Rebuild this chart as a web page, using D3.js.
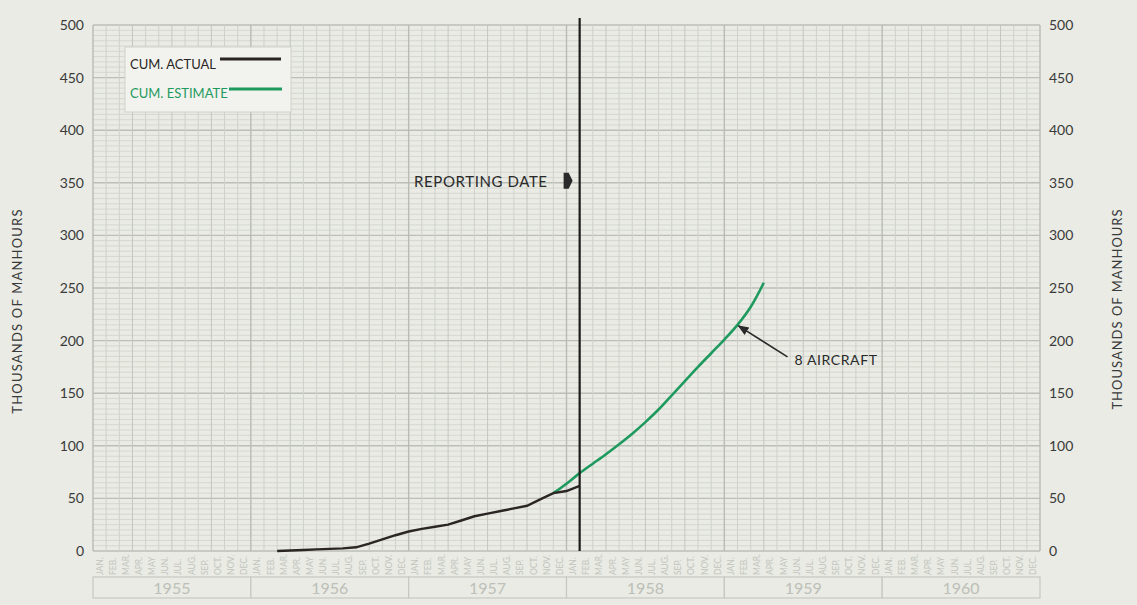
<!DOCTYPE html>
<html>
<head>
<meta charset="utf-8">
<script src="https://cdn.jsdelivr.net/npm/d3@7"></script>
<style>
  body { margin: 0; background: #e9ebe4; }
  svg text { font-family: Lato, "Open Sans", sans-serif; }
</style>
</head>
<body>
<div id="chart"></div>
<script>
// data (points sit on month boundaries, 'YYYY-MM' = start of that month)
const years = ['1955', '1956', '1957', '1958', '1959', '1960'];
const monthLabels = ['JAN.', 'FEB.', 'MAR.', 'APR.', 'MAY', 'JUN.', 'JUL.', 'AUG.', 'SEP.', 'OCT.', 'NOV.', 'DEC.'];
const yTicks = [0, 50, 100, 150, 200, 250, 300, 350, 400, 450, 500];

const actualDates = ['1956-03', '1956-04', '1956-05', '1956-06', '1956-07', '1956-08', '1956-09',
  '1956-10', '1956-11', '1956-12', '1957-01', '1957-02', '1957-03', '1957-04', '1957-05', '1957-06',
  '1957-07', '1957-08', '1957-09', '1957-10', '1957-11', '1957-12', '1958-01', '1958-02'];
const actualValues = [0, 0.5, 1, 1.5, 2, 2.5, 3.5, 7, 11, 15, 18.5, 21, 23, 25, 29, 33,
  35.5, 38, 40.5, 43, 49, 55, 57, 62];

const estimateDates = ['1957-12', '1958-01', '1958-02', '1958-03', '1958-04', '1958-05', '1958-06',
  '1958-07', '1958-08', '1958-09', '1958-10', '1958-11', '1958-12', '1959-01', '1959-02', '1959-03', '1959-04'];
const estimateValues = [55, 64, 74, 83, 92, 101.5, 111.5, 122.5, 134.5, 148, 161.5, 175, 188, 201, 215, 232, 255];

const reportingDate = '1958-02';
const annotation = { date: '1959-02', value: 215, text: '8 AIRCRAFT' };

// layout
const W = 1137, H = 605;
const margin = { left: 93, right: 1040, top: 25, bottom: 551 };

const svg = d3.select('#chart')
  .append('svg')
  .attr('width', W)
  .attr('height', H);

const monthIndex = s => (+s.slice(0, 4) - 1955) * 12 + (+s.slice(5, 7) - 1);

const x = d3.scaleLinear().domain([0, 72]).range([margin.left, margin.right]);
const y = d3.scaleLinear().domain([0, 500]).range([margin.bottom, margin.top]);

// grid
const grid = svg.append('g');
grid.selectAll('line.h')
  .data(d3.range(0, 501, 5))
  .enter()
  .append('line')
  .attr('x1', margin.left).attr('x2', margin.right)
  .attr('y1', d => y(d)).attr('y2', d => y(d))
  .attr('stroke', d => d % 50 === 0 ? '#bcbeb7' : '#d1d3cc')
  .attr('stroke-width', d => d % 50 === 0 ? 1.4 : 0.8);
grid.selectAll('line.v')
  .data(d3.range(0, 73))
  .enter()
  .append('line')
  .attr('y1', y(500)).attr('y2', y(0))
  .attr('x1', d => x(d)).attr('x2', d => x(d))
  .attr('stroke', d => d % 12 === 0 ? '#b9bbb4' : (d % 3 === 0 ? '#c4c6bf' : '#cfd1ca'))
  .attr('stroke-width', d => d % 12 === 0 ? 1.4 : 1);

// month labels
const months = d3.range(72);
svg.append('g').selectAll('text')
  .data(months)
  .enter()
  .append('text')
  .attr('transform', d => `translate(${x(d + 0.5) + 3}, 575)rotate(-90)`)
  .attr('font-size', 8.5)
  .attr('fill', '#c3c5be')
  .text(d => monthLabels[d % 12]);

// year boxes
const yearG = svg.append('g');
yearG.selectAll('rect')
  .data(years)
  .enter()
  .append('rect')
  .attr('x', (d, i) => x(i * 12))
  .attr('y', 577)
  .attr('width', x(12) - x(0))
  .attr('height', 21)
  .attr('fill', '#e9ebe4')
  .attr('stroke', '#c6c8c1')
  .attr('stroke-width', 1.2);
yearG.selectAll('text')
  .data(years)
  .enter()
  .append('text')
  .attr('x', (d, i) => x(i * 12 + 6))
  .attr('y', 594)
  .attr('text-anchor', 'middle')
  .attr('font-size', 16)
  .attr('fill', '#bdbfb8')
  .text(d => d);

// y axes
const yLeft = svg.append('g')
  .attr('transform', `translate(${margin.left - 6}, 0)`)
  .call(d3.axisLeft(y).tickValues(yTicks).tickSize(0));
const yRight = svg.append('g')
  .attr('transform', `translate(${margin.right + 6}, 0)`)
  .call(d3.axisRight(y).tickValues(yTicks).tickSize(0));
[yLeft, yRight].forEach(a => {
  a.select('.domain').remove();
  a.selectAll('text')
    .attr('font-size', 14)
    .attr('fill', '#3a3a3a')
    .style('font-family', 'Lato, sans-serif');
});

svg.append('text')
  .attr('transform', `translate(22, ${(margin.top + margin.bottom) / 2 + 23})rotate(-90)`)
  .attr('text-anchor', 'middle')
  .attr('font-size', 13)
  .attr('letter-spacing', 1.2)
  .attr('fill', '#3a3a3a')
  .text('THOUSANDS OF MANHOURS');
svg.append('text')
  .attr('transform', `translate(1122, ${(margin.top + margin.bottom) / 2 + 21})rotate(-90)`)
  .attr('text-anchor', 'middle')
  .attr('font-size', 13)
  .attr('letter-spacing', 1)
  .attr('fill', '#3a3a3a')
  .text('THOUSANDS OF MANHOURS');

// lines
const estimate = estimateDates.map((d, i) => [monthIndex(d), estimateValues[i]]);
const actual = actualDates.map((d, i) => [monthIndex(d), actualValues[i]]);

svg.append('path')
  .datum(estimate)
  .attr('fill', 'none')
  .attr('stroke', '#1f9a5e')
  .attr('stroke-width', 2.6)
  .attr('d', d3.line().x(d => x(d[0])).y(d => y(d[1])).curve(d3.curveCatmullRom));

svg.append('path')
  .datum(actual)
  .attr('fill', 'none')
  .attr('stroke', '#2b2624')
  .attr('stroke-width', 2.4)
  .attr('d', d3.line().x(d => x(d[0])).y(d => y(d[1])));

// reporting date
const rx = x(monthIndex(reportingDate));
svg.append('line')
  .attr('x1', rx).attr('x2', rx)
  .attr('y1', 18).attr('y2', y(0))
  .attr('stroke', '#1e1c1b')
  .attr('stroke-width', 2.2);
svg.append('text')
  .attr('x', rx - 32)
  .attr('y', y(346))
  .attr('text-anchor', 'end')
  .attr('font-size', 15)
  .attr('letter-spacing', 0.6)
  .attr('fill', '#2a2a2a')
  .text('REPORTING DATE');
svg.append('path')
  .attr('transform', `translate(${rx - 16}, ${y(352)})`)
  .attr('d', 'M0,-8 L5,-8 L9,0 L5,8 L0,8 Z')
  .attr('fill', '#2a2a2a');

// 8 aircraft annotation
const ax = x(monthIndex(annotation.date));
const ay = y(annotation.value);
svg.append('defs').append('marker')
  .attr('id', 'head')
  .attr('viewBox', '0 0 10 10')
  .attr('refX', 9).attr('refY', 5)
  .attr('markerWidth', 7).attr('markerHeight', 7)
  .attr('orient', 'auto')
  .append('path')
  .attr('d', 'M0,1 L10,5 L0,9 Z')
  .attr('fill', '#2a2a2a');
svg.append('line')
  .attr('x1', ax + 50).attr('x2', ax + 1)
  .attr('y1', ay + 32).attr('y2', ay + 1)
  .attr('stroke', '#2a2a2a')
  .attr('stroke-width', 1.6)
  .attr('marker-end', 'url(#head)');
svg.append('text')
  .attr('x', ax + 57)
  .attr('y', ay + 40)
  .attr('font-size', 14)
  .attr('letter-spacing', 0.6)
  .attr('fill', '#2a2a2a')
  .text(annotation.text);

// legend
const lg = svg.append('g').attr('transform', 'translate(125, 47)');
lg.append('rect')
  .attr('width', 166).attr('height', 65)
  .attr('fill', '#f2f3ee')
  .attr('stroke', '#cfd1ca');
lg.append('text').attr('x', 5).attr('y', 22)
  .attr('font-size', 13).attr('fill', '#2a2624').text('CUM. ACTUAL');
lg.append('line').attr('x1', 95).attr('x2', 156).attr('y1', 12).attr('y2', 12)
  .attr('stroke', '#2b2624').attr('stroke-width', 3);
lg.append('text').attr('x', 5).attr('y', 51)
  .attr('font-size', 13).attr('fill', '#1f9a5e').text('CUM. ESTIMATE');
lg.append('line').attr('x1', 104).attr('x2', 157).attr('y1', 42).attr('y2', 42)
  .attr('stroke', '#1f9a5e').attr('stroke-width', 3);
</script>
</body>
</html>
